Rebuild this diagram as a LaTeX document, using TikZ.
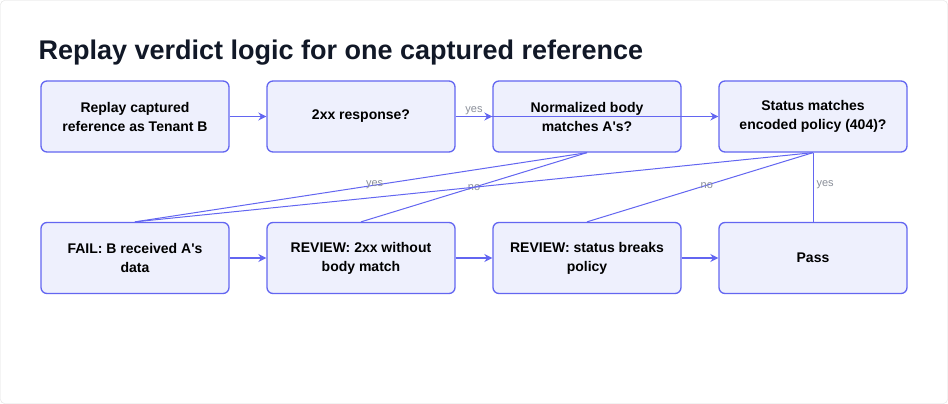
\documentclass[tikz,border=0pt]{standalone}
\usepackage{fontspec}
\setmainfont{Liberation Sans}
\usetikzlibrary{arrows.meta}
\definecolor{edgeblue}{HTML}{6366F1}
\definecolor{boxfill}{HTML}{EEF0FD}
\definecolor{labelgray}{HTML}{8A8F99}
\definecolor{titleink}{HTML}{111827}
\newcommand{\apos}{\textquotesingle}
\tikzset{
  stepbox/.style={draw=edgeblue, fill=boxfill, line width=1.3pt, rounded corners=6pt,
    minimum width=188pt, minimum height=71pt, align=center,
    font=\bfseries\fontsize{14}{19}\selectfont},
  flow/.style={draw=edgeblue, line width=1.3pt, -{Stealth[length=8pt,width=8pt]}},
  link/.style={draw=edgeblue, line width=1pt},
  tag/.style={text=labelgray, font=\fontsize{11}{12}\selectfont, inner sep=1pt}
}
\begin{document}
\begin{tikzpicture}[x=1pt, y=-1pt]
    \useasboundingbox (0,0) rectangle (948,404);
    \draw[black!12, fill=white, rounded corners=4pt] (0.5,0.5) rectangle (947.5,403.5);
    \node[anchor=west, text=titleink, font=\bfseries\fontsize{27}{30}\selectfont] (title) at (35,53) {Replay verdict logic for one captured reference};

    % top row
    \node[stepbox] (replay) at (135,116.5) {Replay captured\\reference as Tenant B};
    \node[stepbox] (twoxx) at (361,116.5) {2xx response?};
    \node[stepbox] (body) at (587,116.5) {Normalized body\\matches A\apos s?};
    \node[stepbox] (status) at (813,116.5) {Status matches\\encoded policy (404)?};

    % bottom row
    \node[stepbox] (fail) at (135,258) {FAIL: B received A\apos s\\data};
    \node[stepbox] (revbody) at (361,258) {REVIEW: 2xx without\\body match};
    \node[stepbox] (revstatus) at (587,258) {REVIEW: status breaks\\policy};
    \node[stepbox] (pass) at (813,258) {Pass};

    % connectors
    \draw[flow] (replay) -- (twoxx);
    \draw[flow] (twoxx) -- node[tag, above, pos=0.5] {yes} (body);
    \draw[flow] (twoxx.east) -- (status.west);
    \draw[link] (body.south) -- node[tag, pos=0.47] {yes} (fail.north);
    \draw[link] (body.south) -- node[tag, pos=0.5] {no} (revbody.north);
    \draw[link] (status.south) -- (fail.north);
    \draw[link] (status.south) -- node[tag, pos=0.47] {no} (revstatus.north);
    \draw[link] (status.south) -- node[tag, pos=0.47, right=2pt] {yes} (pass.north);
    \draw[flow] (fail) -- (revbody);
    \draw[flow] (revbody) -- (revstatus);
    \draw[flow] (revstatus) -- (pass);
\end{tikzpicture}
\end{document}
